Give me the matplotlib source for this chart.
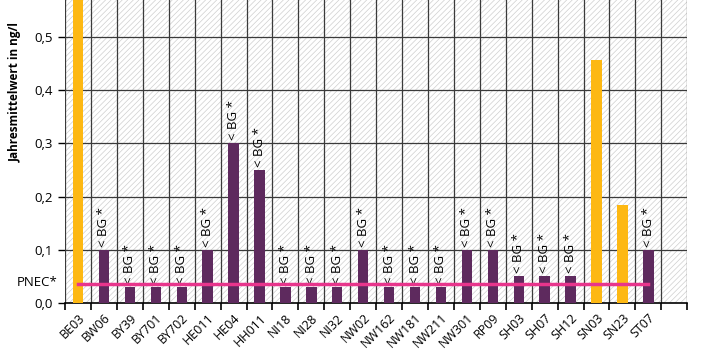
import numpy as np
import matplotlib
matplotlib.use('Agg')
import matplotlib.pyplot as plt
from matplotlib.patches import Rectangle

plt.rcParams['font.family'] = ['Open Sans', 'DejaVu Sans']
plt.rcParams['hatch.linewidth'] = 0.5

# data
stations = ['BE03', 'BW06', 'BY39', 'BY701', 'BY702', 'HE011', 'HE04', 'HH011',
            'NI18', 'NI28', 'NI32', 'NW02', 'NW162', 'NW181', 'NW211', 'NW301',
            'RP09', 'SH03', 'SH07', 'SH12', 'SN03', 'SN23', 'ST07']
values = [0.60, 0.10, 0.03, 0.03, 0.03, 0.10, 0.30, 0.25,
          0.03, 0.03, 0.03, 0.10, 0.03, 0.03, 0.03, 0.10,
          0.10, 0.05, 0.05, 0.05, 0.457, 0.185, 0.10]
below_bg = [False, True, True, True, True, True, True, True,
            True, True, True, True, True, True, True, True,
            True, True, True, True, False, False, True]
pnec = 0.035
yticks = [0.0, 0.1, 0.2, 0.3, 0.4, 0.5]

purple = '#5E2A5E'
orange = '#FDB813'
magenta = '#E8358C'

fig = plt.figure(figsize=(7.07, 3.54), dpi=100)
ax = fig.add_axes([0.092, 0.144, 0.880, 0.856])

n_slots = len(stations) + 1
ax.set_xlim(-0.5, n_slots - 0.5)
ax.set_ylim(0, 0.569)

# hatched background
ax.add_patch(Rectangle((0, 0), 1, 1, transform=ax.transAxes, facecolor='white',
                       edgecolor='#CFCFCF', hatch='//////', linewidth=0, zorder=0))

x = np.arange(len(stations))
colors = [purple if b else orange for b in below_bg]
ax.bar(x, values, width=0.4, color=colors, zorder=3)

for xi, v, b in zip(x, values, below_bg):
    if b:
        ax.text(xi, v + 0.006, '< BG *', rotation=90, ha='center', va='bottom',
                fontsize=9.5, zorder=4)

ax.plot([x[0], x[-1]], [pnec, pnec], color=magenta, lw=2.5, zorder=5)

# grid
bounds = np.arange(-0.5, n_slots, 1.0)
for b in bounds:
    ax.axvline(b, color='#3A3A3A', lw=0.9, zorder=2)
for y in yticks[1:]:
    ax.axhline(y, color='#3A3A3A', lw=0.9, zorder=2)

ax.set_xticks(bounds)
ax.set_xticklabels([])
ax.set_xticks(x, minor=True)
ax.set_xticklabels(stations, minor=True, rotation=45, ha='right',
                   rotation_mode='anchor', fontsize=9)
ax.tick_params(axis='x', which='minor', length=0, pad=6)
ax.tick_params(axis='x', which='major', length=5, width=1.2, direction='out')

ax.set_yticks(yticks)
ax.set_yticklabels([f'{t:.1f}'.replace('.', ',') for t in yticks], fontsize=9.5)
ax.tick_params(axis='y', length=5, width=1, direction='out')
ax.text(-0.012, pnec + 0.003, 'PNEC*', transform=ax.get_yaxis_transform(),
        ha='right', va='center', fontsize=9.5)

ax.set_ylabel('Jahresmittelwert in ng/l', fontsize=8.5, fontweight='bold',
              family=['Liberation Sans Narrow', 'Open Sans'])
ax.yaxis.set_label_coords(-0.069, 0.696)

for s in ['top', 'right']:
    ax.spines[s].set_visible(False)
ax.spines['left'].set_visible(False)
ax.spines['bottom'].set_linewidth(1.2)

fig.savefig('out.png', dpi=100)
